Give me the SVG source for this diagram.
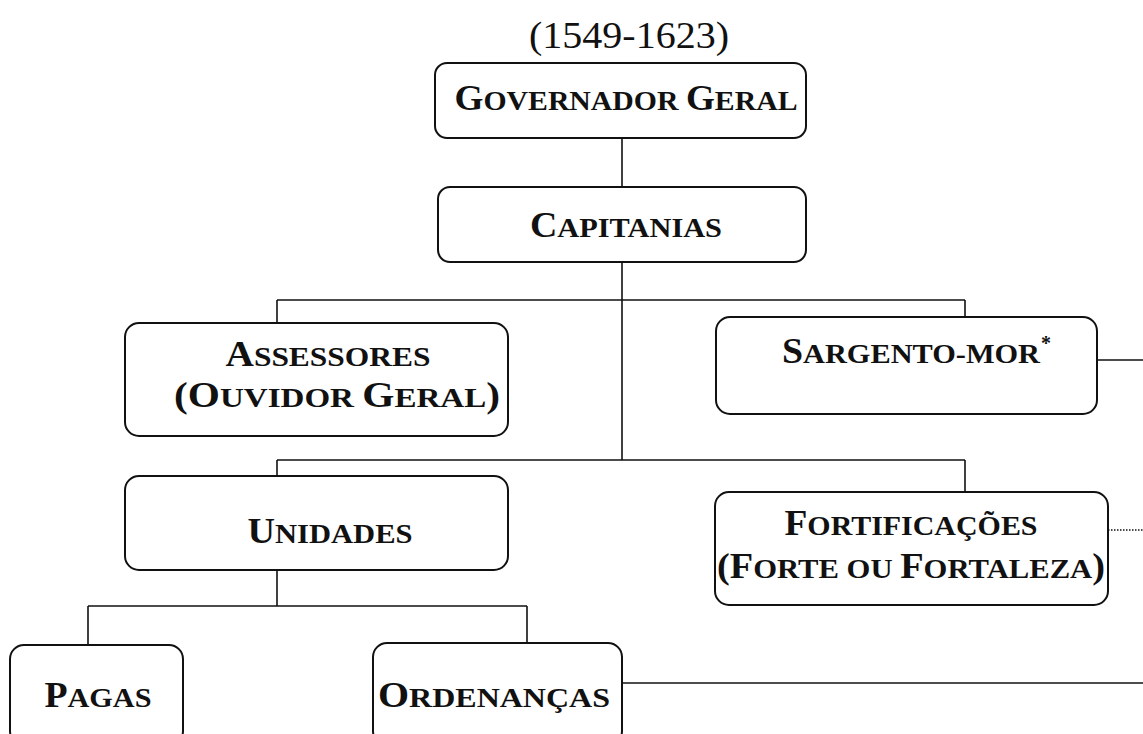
<svg xmlns="http://www.w3.org/2000/svg" width="1143" height="734" viewBox="0 0 1143 734">
<style>
.box{fill:#fff;stroke:#111;stroke-width:2}
.ln{stroke:#111;stroke-width:1.6;fill:none}
.dot{stroke:#111;stroke-width:1.4;stroke-dasharray:1.5 1.5;fill:none}
text{font-family:"Liberation Serif","Times New Roman",serif;fill:#111;text-anchor:middle}
.t{font-weight:bold;font-size:28px}
.b{font-size:35px}
</style>
<rect width="1143" height="734" fill="#fff"/>
<text x="629" y="48" font-size="37" textLength="200" lengthAdjust="spacingAndGlyphs">(1549-1623)</text>
<g id="connectors">
<line class="ln" x1="622" y1="138" x2="622" y2="187"/>
<line class="ln" x1="622" y1="262" x2="622" y2="460"/>
<line class="ln" x1="277" y1="300" x2="965" y2="300"/>
<line class="ln" x1="277" y1="300" x2="277" y2="323"/>
<line class="ln" x1="965" y1="300" x2="965" y2="317"/>
<line class="ln" x1="277" y1="460" x2="965" y2="460"/>
<line class="ln" x1="277" y1="460" x2="277" y2="476"/>
<line class="ln" x1="965" y1="460" x2="965" y2="492"/>
<line class="ln" x1="277" y1="570" x2="277" y2="606"/>
<line class="ln" x1="88" y1="606" x2="527" y2="606"/>
<line class="ln" x1="88" y1="606" x2="88" y2="645"/>
<line class="ln" x1="527" y1="606" x2="527" y2="643"/>
<line class="ln" x1="1097" y1="360" x2="1143" y2="360"/>
<line class="dot" x1="1108" y1="530" x2="1143" y2="530"/>
<line class="ln" x1="622" y1="683" x2="1143" y2="683"/>
</g>
<g id="gov">
<rect class="box" x="435" y="63" width="371" height="75" rx="12"/>
<text class="t" x="626" y="110" textLength="343" lengthAdjust="spacingAndGlyphs"><tspan class="b">G</tspan>OVERNADOR <tspan class="b">G</tspan>ERAL</text>
</g>
<g id="cap">
<rect class="box" x="438" y="187" width="368" height="75" rx="12"/>
<text class="t" x="626" y="237" textLength="192" lengthAdjust="spacingAndGlyphs"><tspan class="b">C</tspan>APITANIAS</text>
</g>
<g id="ass">
<rect class="box" x="125" y="323" width="383" height="113" rx="14"/>
<text class="t" x="328" y="366" textLength="205" lengthAdjust="spacingAndGlyphs"><tspan class="b">A</tspan>SSESSORES</text>
<text class="t" x="337" y="407" textLength="326" lengthAdjust="spacingAndGlyphs"><tspan class="b">(O</tspan>UVIDOR <tspan class="b">G</tspan>ERAL<tspan class="b">)</tspan></text>
</g>
<g id="sar">
<rect class="box" x="716" y="317" width="381" height="97" rx="14"/>
<text class="t" x="911" y="363" textLength="258" lengthAdjust="spacingAndGlyphs"><tspan class="b">S</tspan>ARGENTO-MOR</text>
<text x="1046" y="350" font-size="20" font-weight="bold">*</text>
</g>
<g id="uni">
<rect class="box" x="125" y="476" width="383" height="94" rx="14"/>
<text class="t" x="330" y="543" textLength="165" lengthAdjust="spacingAndGlyphs"><tspan class="b">U</tspan>NIDADES</text>
</g>
<g id="fort">
<rect class="box" x="715" y="492" width="393" height="113" rx="14"/>
<text class="t" x="911" y="535" textLength="253" lengthAdjust="spacingAndGlyphs"><tspan class="b">F</tspan>ORTIFICAÇÕES</text>
<text class="t" x="911" y="578" textLength="388" lengthAdjust="spacingAndGlyphs"><tspan class="b">(F</tspan>ORTE OU <tspan class="b">F</tspan>ORTALEZA<tspan class="b">)</tspan></text>
</g>
<g id="pagas">
<rect class="box" x="10" y="645" width="173" height="100" rx="14"/>
<text class="t" x="98" y="707" textLength="107" lengthAdjust="spacingAndGlyphs"><tspan class="b">P</tspan>AGAS</text>
</g>
<g id="ord">
<rect class="box" x="373" y="643" width="249" height="102" rx="14"/>
<text class="t" x="494" y="707" textLength="232" lengthAdjust="spacingAndGlyphs"><tspan class="b">O</tspan>RDENANÇAS</text>
</g>
</svg>
